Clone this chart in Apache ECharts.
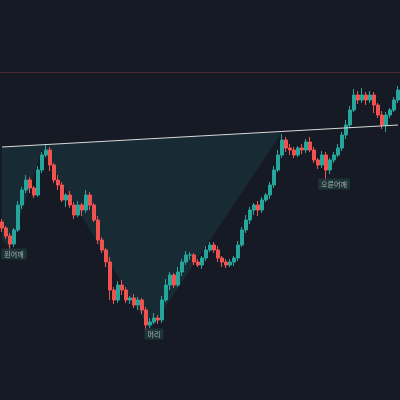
<!DOCTYPE html><html><head><meta charset="utf-8">
<script src="https://cdn.jsdelivr.net/npm/echarts@6/dist/echarts.min.js"></script>
<style>html,body{margin:0;background:#161a25}#c{width:400px;height:400px}</style></head><body><div id="c"></div><script>
const closes=[172,164,156,170,195,210,220,212,205,230,245,250,235,220,215,200,205,195,185,195,190,205,195,180,160,150,138,110,100,115,110,100,102,95,100,90,75,78,82,80,100,115,125,115,128,138,145,145,138,135,142,150,155,150,142,138,135,138,142,155,170,180,190,195,190,200,205,215,230,245,260,252,250,245,252,250,258,250,240,235,245,230,240,245,252,265,275,290,305,300,305,300,305,295,285,275,285,290,300,310];
const firstOpen=178;
const wickUp=[3,2,3,2,4,3,5,3,2,4,3,6,3,2,5,3,2,4,3,4,2,5,3,2,4,3,2,5,3,4,5,3,2,4,3,2,3,4,5,3,4,6,3,2,5,3,4,3,2,3,2,4,3,3,4,2,3,3,2,4,3,5,3,2,4,3,2,3,4,5,6,3,4,3,2,4,3,5,3,2,4,3,2,3,4,3,5,4,6,4,7,3,4,3,2,4,3,2,3,4];
const wickDn=[4,3,8,3,2,4,3,5,3,2,3,2,6,3,5,2,7,3,4,2,6,3,5,2,4,3,5,10,4,3,5,3,4,3,5,4,6,3,2,4,3,2,5,3,2,4,3,5,3,2,4,3,2,3,4,5,3,2,4,3,2,3,4,5,6,3,2,4,3,2,3,4,5,3,2,4,3,2,3,4,3,10,4,3,2,3,4,3,2,4,3,5,3,8,3,4,7,3,2,3];
const neckline=[[0,253],[99,275]];
const resistance=328;
const patternFill=[[0,253],[70,268],[37,70],[10,250],[2,152],[0,160]];
const labels=[{name:'왼어깨',i:3,p:146},{name:'머리',i:38,p:66},{name:'오른어깨',i:83,p:216}];
const cats=closes.map((_,i)=>i);
const ohlc=closes.map((c,i)=>{const o=i?closes[i-1]:firstOpen;return [o,c,Math.min(o,c)-wickDn[i],Math.max(o,c)+wickUp[i]];});
const ch=echarts.init(document.getElementById('c'));
ch.setOption({backgroundColor:'#161a25',animation:false,
grid:{left:0,right:0,top:0,bottom:0},
xAxis:{type:'category',data:cats,show:false},
yAxis:{type:'value',min:0,max:400,show:false,splitLine:{show:false}},
series:[
{type:'custom',data:[[0]],z:1,renderItem:(p,api)=>({type:'polygon',shape:{points:patternFill.map(q=>api.coord(q))},style:{fill:'rgba(38,166,154,0.12)'}})},
{type:'candlestick',data:ohlc,barWidth:3,z:3,itemStyle:{color:'#26a69a',color0:'#ef5350',borderColor:'#26a69a',borderColor0:'#ef5350'},
 markLine:{symbol:'none',silent:true,label:{show:false},data:[
  [{coord:neckline[0],lineStyle:{color:'#d8d8d8',width:1.2,type:'solid'}},{coord:neckline[1]}],
  {yAxis:resistance,lineStyle:{color:'#4a2630',width:1,type:'solid'}}]}},
{type:'scatter',symbolSize:0,z:5,data:labels.map(l=>({value:[l.i,l.p],name:l.name})),
 label:{show:true,formatter:p=>p.name,color:'#c8d0d0',fontSize:7,fontFamily:'Noto Sans CJK KR',backgroundColor:'#1f3a3a',padding:[2,3],borderRadius:1}}
]});
</script></body></html>
